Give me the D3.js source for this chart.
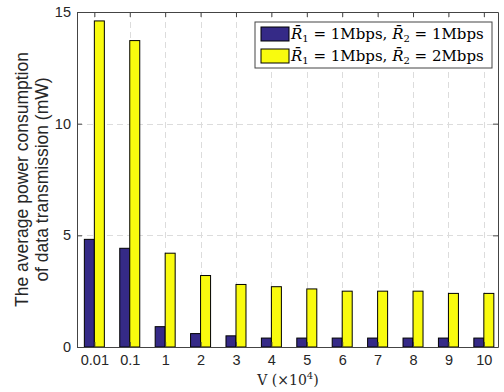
<!DOCTYPE html>
<html>
<head>
<meta charset="utf-8">
<script src="https://cdn.jsdelivr.net/npm/d3@7"></script>
<style>
  body { margin: 0; background: #fff; }
  svg { display: block; }
</style>
</head>
<body>
<svg id="chart" width="504" height="392"></svg>
<script>
// chart data
const categories = ['0.01', '0.1', '1', '2', '3', '4', '5', '6', '7', '8', '9', '10'];
const series1 = [4.82, 4.42, 0.91, 0.6, 0.5, 0.4, 0.4, 0.4, 0.4, 0.4, 0.4, 0.4];
const series2 = [14.6, 13.72, 4.2, 3.2, 2.8, 2.7, 2.6, 2.5, 2.5, 2.5, 2.4, 2.4];
const yTicks = [0, 5, 10, 15];
const seriesColors = ['#352a87', '#f9fb0e'];

const svg = d3.select('#chart');
const plotL = 77, plotR = 498, plotT = 12, plotB = 347;

const x = d3.scaleLinear().domain([-0.49, 11.4]).range([plotL, plotR]);
const y = d3.scaleLinear().domain([0, 15]).range([plotB, plotT]);
const barW = 10;

// grid lines
const grid = svg.append('g')
    .attr('stroke', '#dcdcdc')
    .attr('stroke-width', 1)
    .attr('stroke-dasharray', '6,4');
grid.selectAll('.gx').data(categories).enter().append('line')
    .attr('x1', (d, i) => Math.round(x(i)) + 0.5)
    .attr('x2', (d, i) => Math.round(x(i)) + 0.5)
    .attr('y1', plotT).attr('y2', plotB);
grid.selectAll('.gy').data(yTicks.slice(1, -1)).enter().append('line')
    .attr('x1', plotL).attr('x2', plotR)
    .attr('y1', d => Math.round(y(d)) + 0.5)
    .attr('y2', d => Math.round(y(d)) + 0.5);

// bars
const bars = svg.append('g');
[series1, series2].forEach(function(s, k) {
    bars.selectAll('.b' + k).data(s).enter().append('rect')
        .attr('x', (d, i) => x(i) - barW + k * barW)
        .attr('y', d => y(d))
        .attr('width', barW)
        .attr('height', d => y(0) - y(d))
        .attr('fill', seriesColors[k])
        .attr('stroke', '#000')
        .attr('stroke-width', 1);
});

// axes
const axisColor = '#444';
const xAxis = svg.append('g')
    .attr('transform', 'translate(0,' + plotB + ')')
    .call(d3.axisBottom(x).tickValues(d3.range(categories.length))
        .tickFormat(i => categories[i]).tickSizeInner(-5).tickSizeOuter(0).tickPadding(8));
const xAxisTop = svg.append('g')
    .attr('transform', 'translate(0,' + plotT + ')')
    .call(d3.axisTop(x).tickValues(d3.range(categories.length))
        .tickFormat('').tickSizeInner(-5).tickSizeOuter(0));
const yAxis = svg.append('g')
    .attr('transform', 'translate(' + plotL + ',0)')
    .call(d3.axisLeft(y).tickValues(yTicks).tickSizeInner(-5).tickSizeOuter(0).tickPadding(6));
const yAxisRight = svg.append('g')
    .attr('transform', 'translate(' + plotR + ',0)')
    .call(d3.axisRight(y).tickValues(yTicks).tickFormat('').tickSizeInner(-5).tickSizeOuter(0));

[xAxis, xAxisTop, yAxis, yAxisRight].forEach(function(a) {
    a.selectAll('path').attr('stroke', axisColor);
    a.selectAll('line').attr('stroke', axisColor);
    a.selectAll('text')
        .attr('fill', '#262626')
        .style('font-family', 'Liberation Sans, Arial, sans-serif')
        .style('font-size', '14.5px');
});

// y label
const yl = svg.append('text')
    .attr('transform', 'translate(28,' + ((plotT + plotB) / 2) + ') rotate(-90)')
    .attr('text-anchor', 'middle')
    .attr('fill', '#262626')
    .style('font-family', 'Liberation Sans, Arial, sans-serif')
    .style('font-size', '17.5px');
yl.append('tspan').attr('x', 0).attr('y', 0).text('The average power consumption');
yl.append('tspan').attr('x', 0).attr('y', 20).text('of data transmission (mW)');

// x label
const xl = svg.append('text')
    .attr('x', 288)
    .attr('y', 385)
    .attr('text-anchor', 'middle')
    .attr('fill', '#262626')
    .style('font-family', 'DejaVu Serif, Liberation Serif, serif')
    .style('font-size', '14px');
xl.append('tspan').text('V (\u00d710');
xl.append('tspan').attr('dy', -6).style('font-size', '10px').text('4');
xl.append('tspan').attr('dy', 6).text(')');

// legend
const legendLabels = [['1Mbps', '1Mbps'], ['1Mbps', '2Mbps']];
const lg = svg.append('g').attr('transform', 'translate(255,22)');
lg.append('rect')
    .attr('width', 237).attr('height', 46)
    .attr('fill', '#fff').attr('stroke', axisColor).attr('stroke-width', 1);
legendLabels.forEach(function(lab, k) {
    const row = lg.append('g').attr('transform', 'translate(0,' + (k * 22) + ')');
    row.append('rect')
        .attr('x', 6).attr('y', 5).attr('width', 28).attr('height', 14)
        .attr('fill', seriesColors[k]).attr('stroke', '#000');
    const t = row.append('text')
        .attr('x', 36).attr('y', 17)
        .attr('fill', '#000')
        .style('font-family', 'DejaVu Serif, Liberation Serif, serif')
        .style('font-size', '15px');
    t.append('tspan').style('font-style', 'italic').text('R\u0304');
    t.append('tspan').attr('dy', 3).style('font-size', '10px').text('1');
    t.append('tspan').attr('dy', -3).text(' = ' + lab[0] + ', ');
    t.append('tspan').style('font-style', 'italic').text('R\u0304');
    t.append('tspan').attr('dy', 3).style('font-size', '10px').text('2');
    t.append('tspan').attr('dy', -3).text(' = ' + lab[1]);
});
</script>
</body>
</html>
